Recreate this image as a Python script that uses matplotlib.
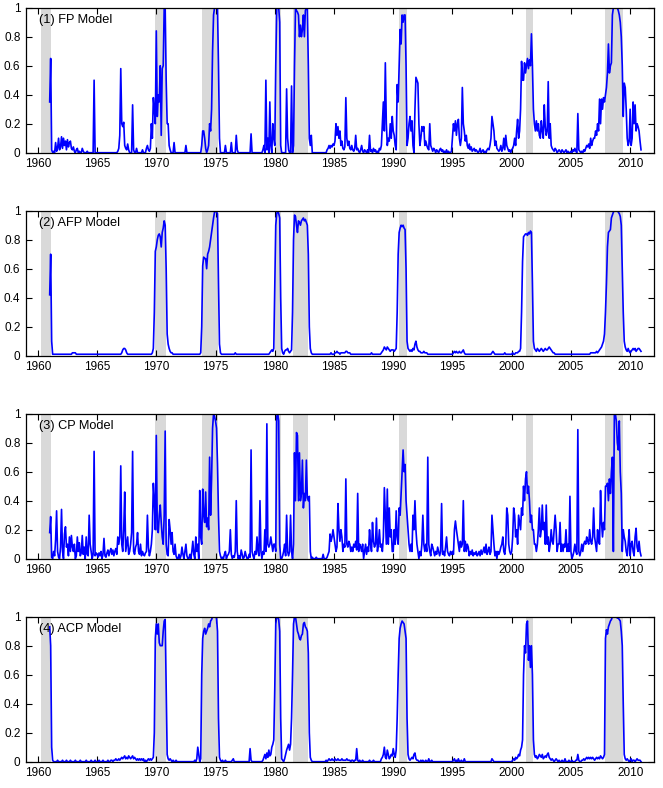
import numpy as np
import matplotlib
matplotlib.use('Agg')
import matplotlib.pyplot as plt
from matplotlib.ticker import FuncFormatter

# monthly probabilities, Jan 1961 - Dec 2010, one row per year
fp_rows = [
    [.35, .65, .02, 0, .01, 0, .07, .01, .03, .10, .02, .04],
    [.11, .03, .10, .05, .08, .02, .09, .04, .07, .08, .03, .02],
    [.04, .01, 0, .02, .03, 0, .01, 0, 0, .03, .01, 0],
    [0, 0, .01, 0, 0, 0, 0, 0, 0, .50, 0, 0],
    [0, 0, 0, 0, 0, 0, 0, 0, 0, 0, 0, 0],
    [0, 0, 0, 0, 0, 0, 0, 0, 0, .01, .03, .12],
    [.58, .20, .18, .21, .05, .03, .02, .06, .02, 0, 0, 0],
    [.33, .02, 0, 0, .03, 0, 0, 0, 0, 0, .02, 0],
    [0, 0, .03, .05, .02, .01, .03, .20, .10, .38, .30, .20],
    [.84, .25, .40, .35, .60, .12, .58, .60, 1.0, 1.0, .50, .20],
    [.20, .05, .02, 0, 0, 0, .07, 0, 0, 0, 0, 0],
    [0, 0, 0, 0, 0, 0, .05, 0, 0, 0, 0, 0],
    [0, 0, 0, 0, 0, 0, 0, 0, 0, 0, .05, .15],
    [.15, .10, .03, 0, .02, .05, .20, .15, .30, .70, .95, 1.0],
    [1.0, 1.0, 1.0, .60, .10, 0, 0, 0, 0, 0, .05, 0],
    [0, 0, 0, 0, .07, 0, 0, 0, 0, .12, .02, 0],
    [0, 0, 0, 0, 0, 0, 0, 0, 0, 0, 0, 0],
    [.13, 0, 0, 0, 0, 0, 0, 0, 0, 0, 0, 0],
    [.02, .05, 0, .50, .02, .10, 0, .35, .05, 0, .20, .10],
    [.05, .60, 1.0, 1.0, 1.0, .90, .05, 0, 0, 0, 0, 0],
    [.44, .10, .02, 0, 0, .46, 0, .05, .60, 1.0, .98, .97],
    [.95, .80, .88, .80, .85, .95, .80, .98, 1.0, 1.0, .60, .10],
    [.05, .12, 0, 0, 0, 0, 0, 0, 0, 0, 0, 0],
    [0, 0, 0, 0, 0, .02, .03, .05, .03, .05, .04, .06],
    [.05, .08, .20, .12, .18, .10, .15, .05, .08, .03, .02, .04],
    [.38, .10, .05, .08, .03, .02, .05, .02, .01, .03, .12, .02],
    [.03, .01, 0, .02, .05, .01, 0, .02, .01, 0, .02, 0],
    [.12, .01, .02, 0, .03, .01, .02, 0, .01, 0, .03, .02],
    [.05, .20, .35, .15, .62, .20, .05, .10, .08, .20, .10, .25],
    [.15, .12, .05, .02, .47, .35, .60, .85, .75, .95, .90, .95],
    [.95, .60, .05, .10, .20, .25, .15, .22, .05, 0, .30, .52],
    [.50, .48, .20, .05, .10, .18, .15, .18, .05, .08, .05, .03],
    [.02, .20, .05, .03, .01, .03, .02, 0, .02, .01, 0, .02],
    [.03, .01, .02, 0, .01, 0, .02, 0, .01, 0, 0, .01],
    [.10, .20, .15, .22, .12, .20, .23, .10, .05, .10, .45, .20],
    [.15, .08, .12, .05, .03, .06, .02, .04, .01, .02, .03, .01],
    [.02, .01, 0, .01, .03, 0, .01, .02, 0, .01, 0, .02],
    [.03, .02, .05, .10, .25, .20, .15, .05, .08, .03, .02, .01],
    [.02, .05, .01, .03, .10, .02, .12, .05, .03, .01, .02, 0],
    [.02, .03, .05, .10, .05, .15, .23, .10, .15, .30, .63, .50],
    [.50, .62, .55, .60, .65, .58, .64, .60, .82, .60, .30, .20],
    [.15, .22, .15, .20, .12, .10, .22, .15, .10, .33, .18, .12],
    [.15, .49, .10, .20, .05, .03, .02, .01, .03, .02, 0, .01],
    [.02, .01, 0, .02, .01, 0, .01, .02, 0, .01, 0, 0],
    [.01, 0, .02, .01, .03, .01, 0, .27, .02, .01, 0, .01],
    [0, .02, .01, .03, .05, .04, .06, .03, .10, .05, .08, .10],
    [.10, .15, .12, .20, .15, .37, .20, .37, .30, .38, .35, .40],
    [.45, .55, .75, .55, .60, .62, .95, 1.0, 1.0, 1.0, 1.0, 1.0],
    [.98, .95, .90, .80, .60, .25, .48, .45, .30, .10, .05, .08],
    [.30, .05, .10, .35, .20, .33, .15, .20, .18, .15, .08, .02],
]

afp_rows = [
    [.42, .70, .10, .01, .01, .01, .01, .01, .01, .01, .01, .01],
    [.01, .01, .01, .01, .01, .01, .01, .01, .01, .01, .01, .02],
    [.02, .02, .02, .01, .01, .01, .01, .01, .01, .01, .01, .01],
    [.01, .01, .01, .01, .01, .01, .01, .01, .01, .01, .01, .01],
    [.01, .01, .01, .01, .01, .01, .01, .01, .01, .01, .01, .01],
    [.01, .01, .01, .01, .01, .01, .01, .01, .01, .01, .01, .01],
    [.01, .02, .04, .05, .05, .04, .02, .01, .01, .01, .01, .01],
    [.01, .01, .01, .01, .01, .01, .01, .01, .01, .01, .01, .01],
    [.01, .01, .01, .01, .01, .01, .01, .01, .02, .05, .30, .72],
    [.75, .80, .83, .84, .82, .75, .85, .88, .93, .90, .60, .15],
    [.08, .05, .03, .02, .02, .01, .01, .01, .01, .01, .01, .01],
    [.01, .01, .01, .01, .01, .01, .01, .01, .01, .01, .01, .01],
    [.01, .01, .01, .01, .01, .01, .01, .01, .01, .02, .20, .62],
    [.68, .67, .67, .60, .70, .72, .75, .80, .85, .90, .95, .99],
    [1.0, .99, .98, .50, .08, .02, .01, .01, .01, .01, .01, .01],
    [.01, .01, .01, .01, .01, .01, .01, .01, .02, .01, .01, .01],
    [.01, .01, .01, .01, .01, .01, .01, .01, .01, .01, .01, .01],
    [.01, .01, .01, .01, .01, .01, .01, .01, .01, .01, .01, .01],
    [.01, .01, .01, .01, .01, .01, .01, .02, .03, .04, .03, .05],
    [.50, .90, .98, 1.0, .98, .95, .40, .05, .02, .01, .03, .04],
    [.04, .05, .03, .02, .03, .04, .30, .80, .97, .96, .90, .85],
    [.93, .92, .90, .93, .94, .95, .93, .94, .92, .90, .70, .20],
    [.05, .02, .01, .01, .01, .01, .01, .01, .01, .01, .01, .01],
    [.01, .01, .01, .01, .01, .01, .01, .01, .01, .02, .01, .01],
    [.01, .02, .02, .03, .02, .02, .01, .02, .02, .02, .02, .02],
    [.03, .03, .02, .02, .02, .01, .01, .01, .01, .01, .01, .01],
    [.01, .01, .01, .01, .01, .01, .01, .01, .01, .01, .01, .01],
    [.01, .01, .02, .01, .01, .01, .01, .01, .01, .01, .01, .01],
    [.02, .03, .04, .06, .05, .04, .06, .05, .04, .03, .04, .04],
    [.04, .03, .04, .05, .30, .70, .85, .88, .90, .89, .90, .88],
    [.87, .60, .10, .05, .04, .03, .04, .03, .05, .04, .08, .10],
    [.06, .04, .03, .03, .02, .02, .02, .03, .02, .02, .02, .01],
    [.01, .01, .01, .01, .01, .01, .01, .01, .01, .01, .01, .01],
    [.01, .01, .01, .01, .01, .01, .01, .01, .01, .01, .01, .01],
    [.01, .02, .03, .02, .03, .02, .02, .03, .02, .02, .03, .04],
    [.02, .01, .01, .01, .01, .01, .01, .01, .01, .01, .01, .01],
    [.01, .01, .01, .01, .01, .01, .01, .01, .01, .01, .01, .01],
    [.01, .01, .01, .01, .02, .03, .02, .01, .01, .01, .01, .01],
    [.01, .01, .01, .01, .01, .02, .01, .01, .01, .01, .01, .01],
    [.01, .02, .01, .01, .02, .02, .02, .03, .03, .05, .30, .65],
    [.82, .83, .84, .84, .83, .85, .84, .86, .85, .50, .10, .05],
    [.04, .03, .05, .04, .03, .04, .05, .04, .03, .04, .05, .04],
    [.04, .05, .06, .05, .04, .03, .02, .02, .01, .01, .01, .01],
    [.01, .01, .01, .01, .01, .01, .01, .01, .01, .01, .01, .01],
    [.01, .01, .01, .01, .01, .01, .01, .01, .01, .01, .01, .01],
    [.01, .01, .01, .01, .01, .01, .01, .01, .02, .02, .02, .02],
    [.02, .02, .03, .02, .03, .04, .05, .06, .08, .10, .15, .30],
    [.50, .75, .85, .86, .87, .95, .97, .99, 1.0, 1.0, 1.0, 1.0],
    [.99, .98, .96, .90, .60, .30, .10, .06, .04, .03, .05, .03],
    [.02, .03, .04, .05, .04, .05, .03, .04, .05, .05, .04, .03],
]

cp_rows = [
    [.18, .29, .01, 0, .05, .02, .13, .33, .05, .01, 0, .08],
    [.34, .05, 0, .17, .22, .08, .10, .02, .15, .05, .16, .08],
    [.05, .10, 0, .02, .15, .05, .11, .02, .04, .16, .03, .08],
    [0, .15, .03, .02, .30, .10, .05, 0, .03, .74, .02, .04],
    [.03, .01, .04, .02, .05, 0, .03, .14, .02, .01, .04, .06],
    [.02, .05, .07, .03, .06, .02, .05, .07, .03, .15, .10, .15],
    [.64, .10, .05, .20, .46, .05, .10, .15, .03, .05, .10, .18],
    [.74, .05, .03, .08, .10, .18, .05, .03, .10, .02, .05, .03],
    [.02, .04, .05, .30, .08, .02, .05, .10, .20, .52, .40, .20],
    [.85, .20, .18, .30, .37, .25, .15, .10, .30, .88, .10, .03],
    [.02, .27, .20, .10, .18, .05, .03, .10, .02, 0, 0, .03],
    [0, .02, .08, .03, 0, .05, .10, .02, 0, 0, .03, 0],
    [.05, .12, .03, 0, .15, .05, .10, 0, .47, .15, .10, .48],
    [.30, .25, .46, .22, .28, .20, .70, .30, .55, .90, 1.0, .98],
    [.95, .90, .65, .30, .05, .02, 0, .01, 0, .03, .05, 0],
    [.02, .03, .05, .20, .03, 0, .02, .01, .05, .40, .05, 0],
    [.02, 0, .06, .03, 0, .01, .05, .02, 0, 0, .03, .01],
    [.75, .05, .02, 0, .05, .03, .15, .05, .02, .40, .05, 0],
    [.05, .03, .20, .05, .93, .10, .08, .10, .15, .10, .05, .10],
    [.10, .05, .98, 1.0, .95, .10, 0, 0, .02, .05, .10, .02],
    [.30, .05, .02, .05, .30, .05, 0, .10, .73, .40, .87, .85],
    [.40, .73, .40, .45, .68, .35, .45, .40, .68, .42, .40, .43],
    [.05, 0, .01, 0, 0, 0, .01, 0, 0, 0, 0, 0],
    [0, .03, 0, 0, 0, .01, .03, .05, .17, .12, .15, .20],
    [.15, .10, .05, .08, .38, .20, .12, .20, .15, .05, .10, .08],
    [.55, .10, .08, .12, .10, .05, .08, .05, .10, .08, .12, .06],
    [.45, .05, .10, .08, .05, .10, 0, .05, .10, .03, .08, .05],
    [.20, .10, .05, .25, .12, .08, .10, .28, .05, .10, .20, .08],
    [.10, .05, .15, .49, .30, .10, .48, .10, .35, .15, .20, .05],
    [.05, .20, .10, .33, .15, .10, .35, .30, .45, .60, .75, .60],
    [.65, .40, .30, .20, .10, .05, .10, .05, .30, .20, .40, .20],
    [.10, .05, 0, .05, .02, .10, .30, .10, .05, .10, .05, .70],
    [.10, .05, .02, .10, .08, .05, .02, .05, .03, .08, .05, .02],
    [.05, .38, .03, .05, .02, .08, .15, .05, .03, .02, .05, .03],
    [.05, .03, .20, .26, .20, .15, .10, .05, .12, .08, .10, .40],
    [.05, .12, .05, .10, .08, .02, .05, .03, .06, .02, .04, .03],
    [.05, .02, .03, .05, .02, .06, .03, .05, .08, .04, .10, .03],
    [.05, .08, .03, .05, .30, .20, .10, .02, .05, 0, .05, .03],
    [.05, .08, .10, .15, .05, .03, .10, .35, .30, .10, .05, .03],
    [.05, .15, .35, .30, .15, .20, .10, .30, .25, .20, .35, .30],
    [.50, .40, .55, .60, .45, .50, .40, .25, .30, .20, .20, .10],
    [.10, .05, .10, .20, .35, .15, .20, .37, .20, .25, .10, .37],
    [.10, .15, .05, .10, .20, .12, .10, .20, .30, .20, .05, .10],
    [.10, .25, .05, .10, .05, .10, .08, .20, .05, .10, .05, .43],
    [.05, 0, .02, .05, .10, .05, .03, .89, .05, .02, .05, .10],
    [.05, .10, .12, .10, .15, .12, .10, .20, .12, .10, .15, .35],
    [.15, .10, .05, .20, .12, .10, .47, .25, .15, .25, .20, .50],
    [.50, .52, .40, .55, .45, .60, .70, .05, 1.0, 1.0, .95, .80],
    [.75, .95, .60, .45, .05, .20, .15, .12, .05, .02, .10, .20],
    [.02, .10, .12, .05, .02, .15, .21, .08, .05, .12, .05, .02],
]

acp_rows = [
    [.93, .80, .10, .01, 0, 0, 0, 0, .01, 0, 0, 0],
    [0, .01, 0, 0, 0, .01, 0, 0, 0, .01, 0, 0],
    [0, 0, .01, 0, 0, 0, 0, .01, 0, 0, 0, 0],
    [0, .01, 0, 0, 0, 0, .01, 0, 0, 0, .01, 0],
    [0, 0, .01, 0, 0, 0, .01, 0, 0, 0, 0, .01],
    [0, 0, .01, .01, 0, .01, .01, .02, .01, .01, .02, .01],
    [.02, .03, .02, .03, .04, .02, .03, .02, .04, .03, .02, .03],
    [.04, .02, .03, .02, .01, .02, .01, .02, .01, .02, .01, .02],
    [0, .01, 0, .01, .02, .01, .02, .01, .02, .03, .20, .85],
    [.95, .88, .95, .82, .80, .80, .80, .90, .97, .98, .50, .05],
    [.02, .01, .02, .01, 0, .01, 0, 0, .01, 0, 0, 0],
    [0, 0, 0, 0, 0, 0, 0, 0, 0, 0, 0, 0],
    [0, 0, 0, .01, 0, .02, .10, .05, 0, .02, .60, .85],
    [.90, .92, .88, .90, .92, .95, .93, .97, .98, 1.0, 1.0, 1.0],
    [1.0, .99, .90, .30, .03, .01, 0, .01, 0, 0, .01, 0],
    [0, 0, 0, 0, 0, .01, .02, 0, 0, 0, 0, 0],
    [0, 0, 0, 0, 0, 0, 0, 0, 0, 0, 0, .09],
    [.01, 0, 0, 0, 0, 0, 0, 0, 0, 0, 0, 0],
    [.01, .03, .05, .02, .06, .03, .08, .04, .05, .10, .12, .15],
    [.50, .95, 1.0, 1.0, .98, .90, .30, .02, .01, 0, .02, .05],
    [.08, .10, .12, .08, .12, .30, .60, .95, 1.0, 1.0, .95, .90],
    [.88, .85, .84, .87, .88, .95, .96, .93, .92, .90, .75, .20],
    [.03, .01, 0, 0, 0, 0, 0, 0, 0, 0, 0, 0],
    [0, 0, 0, 0, .01, 0, .01, .02, .01, .01, .02, .01],
    [.01, .02, .01, .01, .02, .01, .01, .01, .02, .01, .01, .01],
    [.01, .02, .01, .01, .01, 0, .01, .01, 0, .01, .01, .09],
    [.01, 0, .01, 0, 0, .01, 0, 0, 0, 0, 0, 0],
    [.01, 0, 0, 0, .01, 0, 0, 0, 0, 0, 0, 0],
    [.02, .03, .05, .10, .03, .02, .08, .05, .02, .03, .05, .04],
    [.09, .05, .03, .08, .30, .60, .85, .92, .95, .97, .96, .95],
    [.90, .85, .30, .05, .02, .01, .02, .03, .02, .05, .06, .02],
    [.01, .01, 0, 0, .01, 0, .01, 0, 0, .01, 0, 0],
    [.02, 0, 0, .01, 0, 0, 0, 0, 0, 0, 0, 0],
    [0, 0, 0, 0, 0, 0, 0, 0, 0, 0, 0, 0],
    [0, .01, .02, 0, .01, 0, .02, 0, 0, .01, 0, 0],
    [.02, 0, 0, 0, 0, 0, 0, 0, 0, 0, 0, 0],
    [0, 0, 0, 0, 0, 0, 0, 0, 0, 0, 0, 0],
    [0, 0, 0, 0, .02, .01, 0, 0, 0, 0, 0, 0],
    [0, 0, 0, 0, 0, 0, 0, 0, 0, 0, 0, 0],
    [0, .01, .02, .01, .03, .02, .03, .05, .04, .08, .10, .15],
    [.60, .80, .75, .95, .97, .70, .80, .65, .80, .60, .15, .05],
    [.03, .04, .02, .03, .05, .04, .03, .05, .02, .03, .04, .03],
    [.05, .06, .03, .02, .01, .02, .01, 0, .01, .02, .01, 0],
    [.01, 0, 0, .01, 0, 0, .02, 0, 0, 0, .01, 0],
    [0, .01, 0, 0, 0, .01, .01, .05, .01, 0, 0, .01],
    [.01, .02, .01, .02, .03, .02, .03, .02, .03, .02, .03, .02],
    [.01, .02, .03, .02, .03, .02, .04, .03, .02, .03, .05, .85],
    [.91, .88, .93, .95, .97, .98, 1.0, 1.0, 1.0, 1.0, 1.0, .99],
    [.99, .98, .97, .90, .80, .40, .05, .02, .01, .02, .01, 0],
    [.01, .02, 0, .01, .01, 0, .01, .02, .01, .01, .01, 0],
]

# NBER recessions (decimal years)
rec_start = [1960.25, 1969.917, 1973.833, 1980.0, 1981.5, 1990.5, 2001.167, 2007.917]
rec_end = [1961.083, 1970.833, 1975.167, 1980.5, 1982.833, 1991.167, 2001.833, 2009.417]

titles = ['(1) FP Model', '(2) AFP Model', '(3) CP Model', '(4) ACP Model']
series = [fp_rows, afp_rows, cp_rows, acp_rows]

plt.rcParams['font.family'] = ['Liberation Sans', 'DejaVu Sans']

fig = plt.figure(figsize=(6.63, 7.88), dpi=100)
bottoms = [0.8062, 0.5486, 0.291, 0.0334]

for rows, title, b in zip(series, titles, bottoms):
    y = np.array(rows, dtype=float).ravel()
    t = 1961 + np.arange(len(y)) / 12.0
    ax = fig.add_axes([0.0392, b, 0.947, 0.184])
    for s, e in zip(rec_start, rec_end):
        ax.axvspan(s, e, color='#d9d9d9', lw=0, zorder=0)
    ax.plot(t, y, color='#0000ff', lw=1.2, zorder=2)
    ax.set_xlim(1959, 2012)
    ax.set_ylim(0, 1)
    ax.set_xticks(range(1960, 2011, 5))
    ax.set_yticks([0, 0.2, 0.4, 0.6, 0.8, 1])
    ax.yaxis.set_major_formatter(FuncFormatter(lambda v, p: f'{v:g}'))
    ax.tick_params(direction='in', top=True, right=True, length=4,
                   width=0.8, labelsize=8.5, pad=4)
    for sp in ax.spines.values():
        sp.set_linewidth(0.9)
    ax.text(0.021, 0.915, title, transform=ax.transAxes, ha='left', va='center',
            fontsize=9.2)

fig.savefig('out.png', dpi=100)
